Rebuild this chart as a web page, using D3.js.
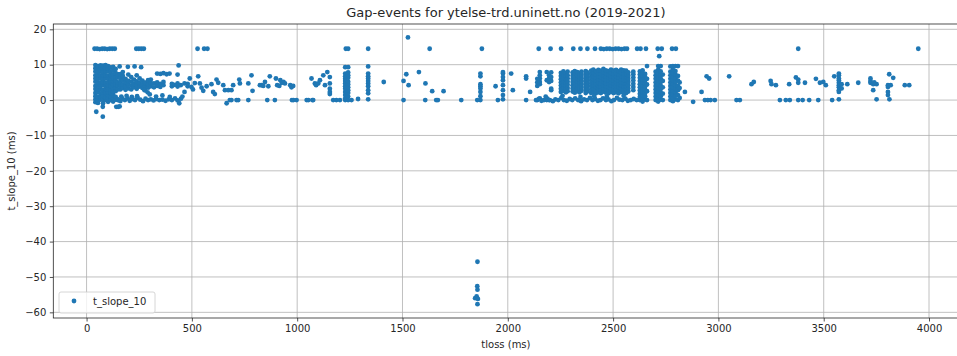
<!DOCTYPE html>
<html>
<head>
<meta charset="utf-8">
<script src="https://cdn.jsdelivr.net/npm/d3@7"></script>
<style>
  body { margin: 0; background: #fff; }
  svg { display: block; font-family: "DejaVu Sans", sans-serif; }
</style>
</head>
<body>
<svg id="chart" width="957" height="356"></svg>
<script>
const title = "Gap-events for ytelse-trd.uninett.no (2019-2021)";
const xLabel = "tloss (ms)";
const yLabel = "t_slope_10 (ms)";
const seriesName = "t_slope_10";

const xTicks = [0, 500, 1000, 1500, 2000, 2500, 3000, 3500, 4000];
const yTicks = [-60, -50, -40, -30, -20, -10, 0, 10, 20];

// stacked columns: [tloss, [t_slope_10 values]]
const earlyColumns = [
  [42, [-0.6, 0.2, 1.1, 2.0, 3.1, 4.0, 5.2, 6.1, 7.0, 8.1, 9.0, 9.9]],
  [54, [-0.8, 0.0, 0.9, 2.2, 3.0, 4.1, 4.9, 6.0, 7.1, 8.0, 9.1, 9.6]],
  [66, [0.1, 1.0, 1.9, 3.0, 3.9, 5.0, 6.2, 7.0, 8.2, 9.2, 9.8]],
  [78, [-0.9, 0.3, 1.2, 2.1, 2.9, 4.2, 5.1, 5.9, 7.1, 7.9, 9.0, 9.7]],
  [90, [0.0, 0.8, 2.0, 3.1, 4.0, 4.8, 6.1, 7.0, 8.0, 9.1, 9.9]],
  [102, [-0.5, 0.4, 1.3, 2.2, 3.2, 4.1, 5.0, 6.0, 6.9, 8.1, 9.0, 9.6]],
  [114, [0.0, 1.1, 2.0, 2.9, 4.0, 5.1, 6.2, 7.1, 8.0, 9.2]],
  [126, [-0.4, 0.5, 1.5, 2.4, 3.3, 4.3, 5.3, 6.3, 7.2, 8.3, 9.4]],
  [138, [0.1, 0.9, 2.5, 3.6, 4.5, 5.5, 6.5, 7.6, 8.8]],
  [148, [0.0, 3.0, 4.1, 5.0, 6.4, 7.3]],
  [160, [3.0, 4.0, 5.1, 6.2, 7.3]],
  [172, [3.4, 4.4, 5.6, 6.8, 7.9]],
  [185, [2.9, 3.9, 5.0, 6.0]],
  [198, [3.3, 4.3, 5.4, 7.2]],
  [212, [3.0, 4.1, 5.2, 6.5]],
  [225, [3.6, 4.6, 5.8]],
  [238, [3.2, 4.2, 5.3, 7.0]],
  [252, [3.8, 4.8, 6.1]],
  [265, [3.4, 4.4, 5.5]],
  [278, [2.8, 3.9, 4.9]],
  [292, [3.5, 4.5, 5.6]],
  [305, [3.9, 4.8, 5.8]],
  [320, [3.6, 4.7]],
  [335, [4.0, 5.0, 7.5]],
  [350, [3.7, 4.6, 7.4]],
  [365, [4.2, 5.1, 7.6]],
  [405, [3.9, 4.6]],
  [432, [3.8, 4.7, 7.2]],
  [465, [2.3, 4.7]],
  [480, [3.9, 4.6]]
];

const midColumns = [
  [1155, [1.7, 2.3, 3.2, 4.7, 6.5]],
  [1228, [0.0, 0.5, 1.4, 2.3, 3.2, 3.9, 4.7, 5.4, 6.0, 6.7, 7.5, 9.3]],
  [1242, [0.0, 1.0, 2.0, 2.8, 3.6, 4.4, 5.2, 6.3, 7.0, 7.8, 9.3]],
  [1337, [0.2, 1.9, 2.8, 3.9, 4.7, 5.4, 6.1, 6.7, 7.5, 9.5]],
  [1870, [0.0, 1.1, 2.3, 3.3, 3.9, 4.5, 6.7, 7.5]],
  [1977, [0.2, 1.4, 2.8, 4.2, 5.6, 6.5, 7.5, 7.9]],
  [2087, [0.0, 6.1, 6.7]]
];

const lateColumns = [
  [2140, [0.0, 4.0, 5.0, 6.0]],
  [2152, [0.5, 4.5, 5.1, 6.1, 7.0, 7.9]],
  [2185, [0.0, 5.6, 7.9]],
  [2196, [0.0, 5.1, 6.1, 7.0]],
  [2206, [2.8, 3.2, 5.4, 6.5, 7.8]],
  [2252, [2.3, 3.2, 4.1, 5.0, 5.9, 6.8, 7.7]],
  [2264, [2.6, 3.5, 4.4, 5.3, 6.2, 7.1, 8.1]],
  [2276, [2.2, 3.1, 4.0, 4.9, 5.8, 6.7, 7.6]],
  [2284, [2.5, 3.4, 4.3, 5.2, 6.1, 7.0, 8.0]],
  [2308, [2.4, 3.3, 4.2, 5.1, 6.0, 6.9, 7.8]],
  [2318, [2.1, 3.0, 3.9, 4.8, 5.7, 6.6, 7.5, 8.2]],
  [2330, [2.5, 3.4, 4.3, 5.2, 6.1, 7.0, 7.9]],
  [2340, [2.2, 3.1, 4.0, 4.9, 5.8, 6.7, 7.6]],
  [2350, [2.6, 3.5, 4.4, 5.3, 6.2, 7.1, 8.0]],
  [2370, [2.0, 2.9, 3.8, 4.7, 5.6, 6.5, 7.4, 8.2]],
  [2378, [2.4, 3.3, 4.2, 5.1, 6.0, 6.9, 7.8]],
  [2396, [2.0, 2.9, 3.8, 4.7, 5.6, 6.5, 7.4, 8.3]],
  [2406, [2.3, 3.2, 4.1, 5.0, 5.9, 6.8, 7.7, 8.6]],
  [2418, [1.9, 2.8, 3.7, 4.6, 5.5, 6.4, 7.3, 8.2]],
  [2430, [2.2, 3.1, 4.0, 4.9, 5.8, 6.7, 7.6, 8.5]],
  [2442, [2.0, 2.9, 3.8, 4.7, 5.6, 6.5, 7.4, 8.3]],
  [2454, [2.4, 3.3, 4.2, 5.1, 6.0, 6.9, 7.8, 8.8]],
  [2466, [2.1, 3.0, 3.9, 4.8, 5.7, 6.6, 7.5, 8.4]],
  [2478, [1.9, 2.8, 3.7, 4.6, 5.5, 6.4, 7.3, 8.2]],
  [2490, [2.3, 3.2, 4.1, 5.0, 5.9, 6.8, 7.7, 8.6]],
  [2502, [2.0, 2.9, 3.8, 4.7, 5.6, 6.5, 7.4, 8.3]],
  [2514, [2.2, 3.1, 4.0, 4.9, 5.8, 6.7, 7.6, 8.5]],
  [2526, [1.9, 2.8, 3.7, 4.6, 5.5, 6.4, 7.3, 8.2]],
  [2538, [2.3, 3.2, 4.1, 5.0, 5.9, 6.8, 7.7, 8.6]],
  [2550, [2.1, 3.0, 3.9, 4.8, 5.7, 6.6, 7.5, 8.4]],
  [2562, [2.0, 2.9, 3.8, 4.7, 5.6, 6.5, 7.4, 8.3]],
  [2572, [2.4, 3.3, 4.2, 5.1, 6.0, 6.9, 7.8]],
  [2596, [2.8, 3.7, 4.6, 5.5, 6.4, 7.3, 8.0]],
  [2627, [0.0, 0.9, 1.8, 2.7, 3.6, 4.5, 5.4, 6.3, 7.2, 8.1]],
  [2640, [-0.4, 0.5, 1.4, 2.3, 3.2, 4.1, 5.0, 5.9, 6.8, 7.7, 8.4]],
  [2652, [0.2, 1.1, 2.0, 2.9, 3.8, 4.7, 5.6, 6.5, 7.4]],
  [2661, [0.0, 2.5, 4.4, 6.0, 9.6]],
  [2702, [0.0, 1.0, 2.0, 3.0, 4.0, 5.0, 6.0, 7.0, 8.0]],
  [2714, [-0.4, 0.5, 1.5, 2.5, 3.5, 4.5, 5.5, 6.5, 7.5, 8.5, 9.6]],
  [2726, [0.1, 1.1, 2.1, 3.1, 4.1, 5.1, 6.1, 7.1, 8.1, 9.6]],
  [2736, [0.0, 1.8, 3.6, 5.4, 7.2]],
  [2772, [0.0, 1.0, 2.0, 3.0, 4.0, 5.0, 6.0, 7.0, 8.0, 9.5]],
  [2784, [-0.3, 0.6, 1.6, 2.6, 3.6, 4.6, 5.6, 6.6, 7.6, 8.6, 9.6]],
  [2796, [0.2, 1.2, 2.2, 3.2, 4.2, 5.2, 6.2, 7.2, 8.2, 9.6]],
  [2808, [0.0, 1.4, 2.8, 4.0, 5.5, 6.8, 9.6]],
  [2816, [0.6, 3.4, 5.0]],
  [3572, [0.2, 2.3, 2.8, 3.6, 4.2, 4.9, 5.6, 6.1, 7.0, 7.5]],
  [3585, [3.3, 4.5]],
  [3722, [4.9, 5.4, 6.1]],
  [3735, [2.8, 4.5]],
  [3751, [0.2, 4.5]],
  [3805, [1.4, 2.3, 3.7, 4.2]]
];

// single points: [tloss, t_slope_10]
const topRow = [
  [38, 14.5], [50, 14.5], [62, 14.4], [74, 14.5], [86, 14.5], [98, 14.4], [110, 14.5], [122, 14.5], [134, 14.5],
  [236, 14.5], [248, 14.5], [260, 14.5], [272, 14.5], [527, 14.5], [558, 14.5], [574, 14.5],
  [1231, 14.5], [1242, 14.5], [1337, 14.5], [1526, 17.7], [1629, 14.5], [1877, 14.5],
  [2147, 14.5], [2203, 14.5], [2253, 14.5], [2311, 14.5], [2345, 14.5], [2378, 14.5], [2414, 14.5],
  [2442, 14.5], [2456, 14.4], [2470, 14.5], [2484, 14.5], [2498, 14.4], [2512, 14.5], [2526, 14.5],
  [2540, 14.4], [2554, 14.5], [2566, 14.5], [2614, 14.5], [2630, 14.5], [2656, 14.5],
  [2712, 14.5], [2731, 14.5], [2719, 12.4], [2780, 14.5], [2798, 14.5],
  [3379, 14.5], [3949, 14.5]
];

const earlyPoints = [
  [157, 9.5], [196, 9.4], [228, 9.5], [259, 9.3], [437, 9.8], [380, 7.3], [394, 7.5], [418, 4.3], [447, 4.2],
  [150, 0.2], [160, -0.3], [170, 0.4], [182, 0.0], [195, 0.5], [205, -0.2], [218, 0.3], [230, 0.0],
  [242, 0.6], [255, 0.1], [268, -0.3], [280, 0.4], [292, 0.0], [305, 0.2], [318, -0.1], [330, 0.3],
  [345, 0.0], [360, 0.1], [375, -0.2], [390, 0.2], [405, 0.0], [420, 0.5], [432, -0.1], [448, 0.4],
  [165, 1.0], [190, 1.2], [215, 0.9], [240, 1.1], [330, 1.0], [360, 1.3], [395, 0.9],
  [275, 2.8], [290, 2.2], [300, 1.6], [440, -0.9], [455, 1.0],
  [46, -3.3], [77, -4.7], [77, -1.9], [141, -1.9], [150, -1.9], [157, -1.8]
];

const midPoints = [
  [490, 6.1], [498, 3.7], [505, 3.0], [514, 4.8], [530, 6.7], [538, 4.7], [546, 3.5], [554, 2.6],
  [570, 3.9], [593, 4.5], [601, 2.3], [609, 1.7], [617, 5.8], [625, 4.9], [649, 4.2], [657, 2.8],
  [665, -0.9], [673, 2.8], [680, 0.0], [688, 0.0], [688, 2.8], [696, 4.2], [712, 0.0], [720, 0.0],
  [725, 5.8], [728, 4.7], [768, 4.7], [768, 0.0], [783, 7.0], [788, 2.6], [823, 4.2], [831, 4.2],
  [839, 4.0], [847, 5.1], [858, 0.0], [863, 3.9], [870, 6.7], [894, 0.0], [899, 6.1], [905, 4.2],
  [915, 4.0], [920, 5.6], [927, 4.9], [935, 5.1], [942, 4.7], [967, 4.2], [973, 3.6], [975, 0.0],
  [981, 4.0], [982, 0.0], [997, 0.0],
  [1045, 0.0], [1053, 0.0], [1068, 6.1], [1072, 0.0], [1076, 0.0], [1084, 4.7], [1090, 4.2],
  [1100, 4.7], [1108, 5.6], [1124, 7.0], [1132, 4.2], [1143, 7.9], [1171, 0.0], [1186, 0.0], [1203, 0.0],
  [1258, 0.0], [1289, 0.3], [1411, 5.1], [1505, 0.0], [1505, 5.4], [1518, 7.3], [1529, 4.2],
  [1578, 7.9], [1608, 0.0], [1609, 4.7], [1641, 2.5], [1660, 0.0], [1668, 0.0], [1695, 2.5],
  [1779, 0.0], [1855, 0.0], [1942, 3.9], [1953, 0.0], [2016, 7.5], [2024, 2.8], [2106, 2.3],
  [1856, -45.7], [1855, -52.6], [1856, -53.6], [1852, -55.5], [1845, -56.0], [1858, -56.2], [1856, -57.7]
];

const latePoints = [
  [2134, 0.0], [2147, 0.3], [2160, -0.2], [2172, 0.0], [2188, 0.4], [2200, 0.0], [2214, -0.3],
  [2226, 0.2], [2240, 0.0], [2254, 0.6], [2266, 0.0], [2280, -0.2], [2294, 0.3], [2306, 0.0],
  [2320, 0.5], [2334, 0.0], [2348, -0.3], [2362, 0.2], [2376, 0.0], [2390, 0.6], [2402, 0.0],
  [2414, 0.3], [2428, -0.2], [2440, 0.0], [2452, 0.5], [2466, 0.0], [2478, 0.2], [2492, -0.3],
  [2504, 0.0], [2518, 0.6], [2530, 0.1], [2544, 0.0], [2558, 0.4], [2570, -0.2], [2584, 0.0],
  [2598, 0.3], [2612, 0.0], [2180, 1.0], [2260, 1.2], [2345, 0.9], [2410, 1.1], [2470, 1.0], [2550, 1.2],
  [2841, 2.3], [2880, -0.5], [2920, 2.3], [2936, 0.0], [2944, 6.7], [2950, 0.0], [2956, 6.1],
  [2963, 0.0], [2983, 0.0], [3051, 6.7], [3086, 0.0], [3102, 0.0], [3157, 4.5], [3168, 5.1],
  [3248, 5.4], [3252, 4.5], [3273, 4.2], [3292, 0.0], [3320, 0.0], [3336, 4.5], [3339, 0.0],
  [3368, 6.4], [3379, 5.8], [3379, 4.9], [3379, 0.0], [3400, 0.0], [3411, 4.9], [3431, 0.0],
  [3463, 6.0], [3474, 0.0], [3482, 4.9], [3498, 5.1], [3510, 4.2], [3540, 0.0], [3550, 6.7],
  [3612, 4.5], [3664, 4.9], [3740, 5.0], [3811, 7.3], [3830, 6.3], [3812, 0.2], [3818, 4.2],
  [3885, 4.2], [3906, 4.2]
];

// flatten everything into one list of [tloss, slope]
let data = [];
[earlyColumns, midColumns, lateColumns].forEach(cols => {
  cols.forEach(c => c[1].forEach(v => data.push([c[0], v])));
});
data = data.concat(topRow, earlyPoints, midPoints, latePoints);

const svg = d3.select("#chart");
const margin = { top: 24, left: 53.3, bottom: 318, right: 958.5 };

const x = d3.scaleLinear().domain([-158, 4140]).range([margin.left, margin.right]);
const y = d3.scaleLinear().domain([-61.6, 21.5]).range([margin.bottom, margin.top]);

// grid
svg.append("g").selectAll("line").data(xTicks).join("line")
  .attr("x1", d => x(d)).attr("x2", d => x(d))
  .attr("y1", margin.top).attr("y2", margin.bottom)
  .attr("stroke", "#b0b0b0").attr("stroke-width", 0.8);
svg.append("g").selectAll("line").data(yTicks).join("line")
  .attr("x1", margin.left).attr("x2", margin.right)
  .attr("y1", d => y(d)).attr("y2", d => y(d))
  .attr("stroke", "#b0b0b0").attr("stroke-width", 0.8);

// points
svg.append("g").selectAll("circle").data(data).join("circle")
  .attr("cx", d => x(d[0]))
  .attr("cy", d => y(d[1]))
  .attr("r", 2.4)
  .attr("fill", "#1f77b4");

// axes
const fmt = d => d < 0 ? "\u2212" + Math.abs(d) : String(d);
const xAxis = svg.append("g")
  .attr("transform", "translate(0," + margin.bottom + ")")
  .call(d3.axisBottom(x).tickValues(xTicks).tickFormat(fmt).tickSize(3.5).tickPadding(3.5));
const yAxis = svg.append("g")
  .attr("transform", "translate(" + margin.left + ",0)")
  .call(d3.axisLeft(y).tickValues(yTicks).tickFormat(fmt).tickSize(3.5).tickPadding(3.5));
[xAxis, yAxis].forEach(a => {
  a.select(".domain").remove();
  a.selectAll("text").attr("font-size", 10).attr("fill", "#262626").attr("font-family", "DejaVu Sans, sans-serif");
  a.selectAll("line").attr("stroke", "#262626").attr("stroke-width", 0.8);
});

// spines (right spine falls just outside the window)
svg.append("rect")
  .attr("x", margin.left).attr("y", margin.top)
  .attr("width", margin.right - margin.left).attr("height", margin.bottom - margin.top)
  .attr("fill", "none").attr("stroke", "#262626").attr("stroke-width", 0.8);

// labels
svg.append("text")
  .attr("x", (margin.left + margin.right) / 2).attr("y", 17)
  .attr("text-anchor", "middle").attr("font-size", 13).attr("fill", "#262626")
  .text(title);
svg.append("text")
  .attr("x", (margin.left + margin.right) / 2).attr("y", 348)
  .attr("text-anchor", "middle").attr("font-size", 10).attr("fill", "#262626")
  .text(xLabel);
svg.append("text")
  .attr("transform", "translate(15," + (margin.top + margin.bottom) / 2 + ") rotate(-90)")
  .attr("text-anchor", "middle").attr("font-size", 10).attr("fill", "#262626")
  .text(yLabel);

// legend
const legend = svg.append("g").attr("transform", "translate(59,292)");
legend.append("rect")
  .attr("width", 96).attr("height", 21).attr("rx", 2)
  .attr("fill", "#fff").attr("fill-opacity", 0.8)
  .attr("stroke", "#cccccc").attr("stroke-width", 0.8);
legend.append("circle").attr("cx", 15).attr("cy", 9).attr("r", 2.4).attr("fill", "#1f77b4");
legend.append("text").attr("x", 34).attr("y", 13)
  .attr("font-size", 10).attr("fill", "#262626").text(seriesName);
</script>
</body>
</html>
